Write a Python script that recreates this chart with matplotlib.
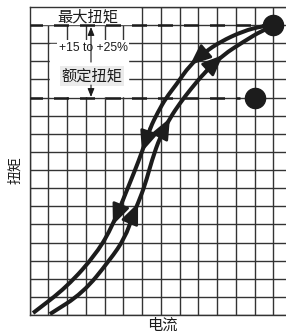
import numpy as np
import matplotlib
matplotlib.use('Agg')
import matplotlib.pyplot as plt
from matplotlib.patches import Rectangle, PathPatch
from matplotlib.path import Path

plt.rcParams['font.family'] = ['Noto Sans CJK SC', 'DejaVu Sans']

# curves in grid units (x: current, y: torque)
down_x = [0.19, 2.0, 3.6, 4.45, 5.09, 5.63, 6.0, 6.43, 6.85, 7.28, 7.81, 8.56, 9.36, 10.16, 11.39, 12.45, 12.99]
down_y = [0.11, 1.55, 3.42, 4.97, 6.62, 8.0, 9.0, 10.32, 11.2, 11.98, 12.69, 13.8, 14.51, 15.07, 15.67, 15.95, 16.0]
up_x = [1.09, 2.85, 4.29, 5.09, 5.52, 5.79, 6.16, 6.53, 6.96, 7.49, 8.03, 8.56, 9.36, 10.32, 11.39, 12.45, 12.99]
up_y = [0.05, 1.21, 3.04, 4.25, 5.52, 6.18, 7.17, 8.55, 9.82, 10.87, 11.7, 12.42, 13.41, 14.35, 15.07, 15.73, 15.89]
down_arrows = [3, 6, 11]   # arrow tip index, pointing down
up_arrows = [5, 9, 13]     # arrow tip index, pointing up
max_torque = 16
rated_torque = 12
dots_x = [13, 12]
dots_y = [max_torque, rated_torque]

c = '#1c1c1c'


def smooth_path(xs, ys):
    # quadratic bezier through midpoints, control points = read points
    pts = list(zip(xs, ys))
    verts = [pts[0]]
    codes = [Path.MOVETO]
    mid = lambda a, b: ((a[0] + b[0]) / 2, (a[1] + b[1]) / 2)
    verts.append(mid(pts[0], pts[1]))
    codes.append(Path.LINETO)
    for i in range(1, len(pts) - 1):
        verts += [pts[i], mid(pts[i], pts[i + 1])]
        codes += [Path.CURVE3, Path.CURVE3]
    verts.append(pts[-1])
    codes.append(Path.LINETO)
    return Path(verts, codes)


fig = plt.figure(figsize=(2.86, 3.32), dpi=100)
ax = fig.add_axes([29.5/286, 17/332, 1 - 29.5/286, 308/332])
ax.set_xlim(0, 256.5/18.75)
ax.set_ylim(0, 17)
ax.set_xticks(np.arange(0, 14))
ax.set_yticks(np.arange(0, 18))
ax.tick_params(length=0, labelbottom=False, labelleft=False)
ax.grid(True, color='#333333', lw=1.0)
for s in ['left', 'top', 'bottom']:
    ax.spines[s].set_color('#333333')
    ax.spines[s].set_linewidth(1.0)
ax.spines['right'].set_visible(False)

# label boxes
ax.add_patch(Rectangle((0.08, 16.06), 5.81, 0.88, color='white', zorder=2))
ax.add_patch(Rectangle((1.09, 12.09), 4.16, 2.87, color='white', zorder=2))

ax.axhline(max_torque, color=c, lw=1.8, ls=(1, (6, 4.4)), zorder=3)
ax.plot([0, 11.2], [rated_torque, rated_torque], color=c, lw=1.8, ls=(1, (6, 4.4)), zorder=3)

for xs, ys in [(down_x, down_y), (up_x, up_y)]:
    ax.add_patch(PathPatch(smooth_path(xs, ys), fc='none', ec=c, lw=2.9, zorder=4))

arrow = dict(arrowstyle='-|>,head_length=0.9,head_width=0.38', color=c,
             lw=2.0, shrinkA=0, shrinkB=0, mutation_scale=14)
for i in down_arrows:
    ax.annotate('', xy=(down_x[i], down_y[i]), xytext=(down_x[i+1], down_y[i+1]),
                arrowprops=arrow, zorder=5)
for i in up_arrows:
    ax.annotate('', xy=(up_x[i], up_y[i]), xytext=(up_x[i-1], up_y[i-1]),
                arrowprops=arrow, zorder=5)
ax.plot(dots_x, dots_y, 'o', color=c, ms=14.5, zorder=6, clip_on=False)

ax.text(3.09, 16.45, '最大扭矩', ha='center', va='center', fontsize=11, color=c, zorder=5)
ax.text(3.39, 14.74, '+15 to +25%', ha='center', va='center', fontsize=8.8, color=c,
        family='Liberation Sans', zorder=5,
        bbox=dict(boxstyle='square,pad=0.15', fc='white', ec='none'))
ax.text(3.33, 13.19, '额定扭矩', ha='center', va='center', fontsize=11, color=c, zorder=5,
        bbox=dict(boxstyle='square,pad=0.1', fc='#ebebeb', ec='none'))
ax.annotate('', xy=(3.28, 15.9), xytext=(3.28, 13.96),
            arrowprops=dict(arrowstyle='-|>,head_length=0.5,head_width=0.2', color=c,
                            lw=0.8, shrinkA=0, shrinkB=0, mutation_scale=10), zorder=6)
ax.annotate('', xy=(3.28, 12.03), xytext=(3.28, 12.69),
            arrowprops=dict(arrowstyle='-|>,head_length=0.5,head_width=0.2', color=c,
                            lw=0.8, shrinkA=0, shrinkB=0, mutation_scale=10), zorder=6)

fig.text(162/286, 1 - 325/332, '电流', ha='center', va='center', fontsize=11, color=c)
fig.text(15/286, 1 - 170/332, '扭矩', ha='center', va='center', fontsize=10, color=c, rotation=90)

fig.savefig('out.png', dpi=100)
